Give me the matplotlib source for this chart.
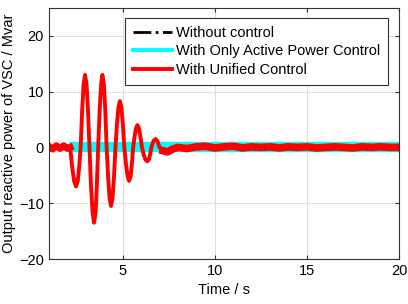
import matplotlib
matplotlib.use("Agg")
import matplotlib.pyplot as plt
from matplotlib.lines import Line2D

plt.rcParams['font.family'] = ['Liberation Sans', 'DejaVu Sans']

# red: unified control
t_red = [1.0, 1.2, 1.4, 1.6, 1.8, 2.0, 2.15,
         2.26, 2.37, 2.47, 2.56, 2.64, 2.72,
         2.80, 2.88, 2.96, 3.04, 3.12, 3.20,
         3.28, 3.37, 3.45, 3.53, 3.60, 3.67,
         3.75, 3.83, 3.90, 3.98, 4.06, 4.13,
         4.21, 4.29, 4.37, 4.45, 4.53, 4.61,
         4.69, 4.77, 4.85, 4.93, 5.01, 5.09,
         5.18, 5.27, 5.35, 5.43, 5.50, 5.57,
         5.65, 5.73, 5.80, 5.88, 5.96, 6.05,
         6.14, 6.24, 6.33, 6.42, 6.49, 6.56,
         6.68, 6.78, 6.88, 7.0, 7.2, 7.45, 7.7, 8.0,
         8.5, 9.0, 9.5, 10.0, 10.5, 11.0, 11.5, 12.0, 12.5, 13.0,
         13.5, 14.0, 14.5, 15.0, 15.5, 16.0, 16.5, 17.0, 17.5, 18.0,
         18.5, 19.0, 19.5, 20.0]
q_red = [0.2, -0.3, 0.3, -0.2, 0.3, -0.2, 0.0,
         -3.5, -6.1, -7.0, -6.1, -3.5, 0.0,
         6.5, 11.3, 13.0, 11.3, 6.5, 0.0,
         -6.8, -11.7, -13.5, -11.7, -6.8, 0.0,
         6.5, 11.3, 13.0, 11.3, 6.5, 0.0,
         -5.3, -9.1, -10.5, -9.1, -5.3, 0.0,
         4.2, 7.2, 8.3, 7.2, 4.2, 0.0,
         -3.0, -5.2, -6.0, -5.2, -3.0, 0.0,
         2.0, 3.5, 4.0, 3.5, 2.0, 0.0,
         -1.3, -2.2, -2.5, -2.2, -1.3, 0.0,
         1.2, 1.5, 1.2, 0.0, -0.6, -0.8, -0.3, 0.0,
         -0.2, 0.1, 0.2, -0.1, 0.1, 0.2, -0.1, 0.1, 0.0, 0.1,
         -0.1, 0.1, 0.0, 0.1, -0.1, 0.0, 0.1, 0.0, -0.1, 0.1,
         0.0, 0.1, 0.0, 0.0]

# cyan: only active power control, black: without control
t_cyan = [2.1, 5.0, 10.0, 15.0, 20.0]
q_cyan = [0.0, 0.0, 0.0, 0.0, 0.0]
t_black = [1.0, 5.0, 10.0, 15.0, 20.0]
q_black = [0.0, 0.0, 0.0, 0.0, 0.0]

labels = ['Without control', 'With Only Active Power Control', 'With Unified Control']

fig = plt.figure(figsize=(4.08, 3.04), dpi=100)
ax = fig.add_axes([0.12, 0.148, 0.858, 0.826])

ax.plot(t_black, q_black, color='black', lw=2, ls='-.')
ax.plot(t_cyan, q_cyan, color='cyan', lw=7.5, solid_capstyle='butt')
ax.plot(t_red, q_red, color='red', lw=2.8)
# noisy flat parts look thicker
ax.plot(t_red[:7], q_red[:7], color='red', lw=5)
ax.plot(t_red[65:], q_red[65:], color='red', lw=5.5)

ax.set_xlim(1, 20)
ax.set_ylim(-20, 25)
ax.set_xticks([5, 10, 15, 20])
ax.set_yticks([-20, -10, 0, 10, 20])
ax.grid(True, color='#e0e0e0', lw=0.8)
ax.set_axisbelow(True)
ax.tick_params(direction='in', top=True, right=True, labelsize=10.5,
               color='#333333', length=3)
for s in ax.spines.values():
    s.set_color('#333333')
    s.set_linewidth(0.8)

ax.set_xlabel('Time / s', fontsize=10.5, labelpad=4)
ax.set_ylabel('Output reactive power of VSC / Mvar', fontsize=10.5, labelpad=2)

handles = [Line2D([], [], color='black', lw=2, ls='-.'),
           Line2D([], [], color='cyan', lw=3),
           Line2D([], [], color='red', lw=2.8)]
leg = ax.legend(handles, labels, loc='upper right', bbox_to_anchor=(0.969, 0.96),
                fontsize=10.5, fancybox=False, framealpha=1, edgecolor='#333333',
                handlelength=2.7, borderpad=0.55, labelspacing=0.3, handletextpad=0.25,
                borderaxespad=0)
leg.get_frame().set_linewidth(0.8)

fig.savefig('out.png', dpi=100)
